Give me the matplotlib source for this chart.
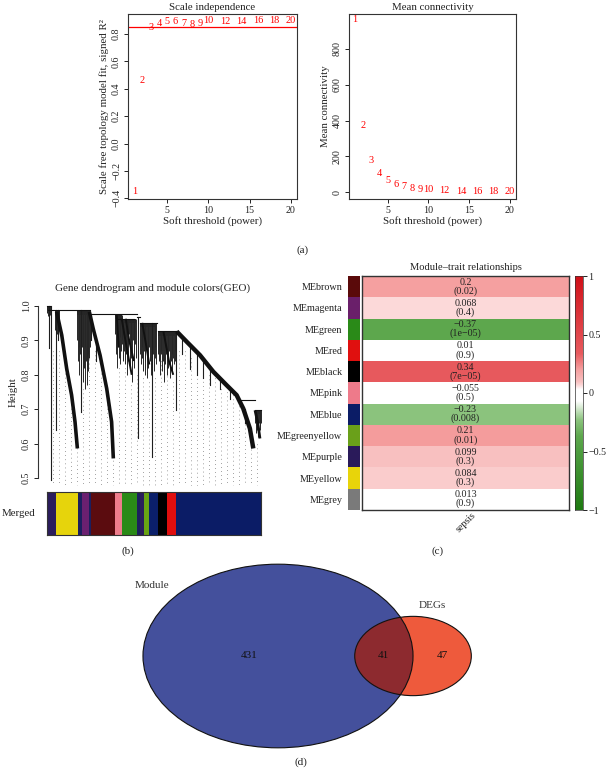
"""WGCNA summary figure: soft threshold scan, gene dendrogram,
module-trait heatmap and Module/DEGs Venn diagram."""

import numpy as np

import matplotlib

matplotlib.use("Agg")
import matplotlib.pyplot as plt
from matplotlib.colors import LinearSegmentedColormap, Normalize
from matplotlib.patches import Ellipse

W, H = 606, 768
INK = "#222222"
FRAME = "#333333"
plt.rcParams["font.family"] = ["Liberation Serif", "DejaVu Serif"]

# (a) soft threshold scan
POWERS = [1, 2, 3, 4, 5, 6, 7, 8, 9, 10, 12, 14, 16, 18, 20]
SFT_R2 = [-0.352, 0.46, 0.85, 0.88, 0.89, 0.89, 0.88, 0.87, 0.88, 0.897,
          0.89, 0.89, 0.897, 0.897, 0.90]
MEAN_K = [962, 370, 180, 106, 63, 41, 31, 22, 17, 13, 9, 4, 6, 5, 4]
R2_CUT = 0.85

# (b) gene dendrogram, leaves on a 0-100 scale, heights as in the plot
DENDRO_MERGES = [(0.0, 1.6, 0.999), (0.5, 20.0, 0.987), (20.0, 42.0, 0.977),
                 (42.0, 43.5, 0.968), (43.5, 51.2, 0.951), (52.0, 60.6, 0.926),
                 (33.0, 40.5, 0.963), (89.4, 97.2, 0.727), (97.2, 100.0, 0.697)]
DENDRO_TAILS = [
    [(4.5, 0.983), (6.9, 0.915), (9.2, 0.818), (11.5, 0.741), (13.1, 0.663), (14.2, 0.586)],
    [(19.8, 0.983), (21.6, 0.934), (24.8, 0.857), (27.9, 0.760), (30.2, 0.663), (31.0, 0.557)],
    [(60.6, 0.926), (65.3, 0.896), (71.5, 0.857), (77.7, 0.809), (83.9, 0.770),
     (88.6, 0.741), (91.7, 0.702), (94.8, 0.644), (96.4, 0.586)],
    [(97.2, 0.697), (98.5, 0.660), (99.5, 0.615)],
    [(34.9, 0.963), (37.2, 0.880), (39.6, 0.800)],
    [(32.6, 0.973), (33.5, 0.880)],
    [(36.8, 0.963), (38.4, 0.900), (40.6, 0.840)],
    [(54.4, 0.926), (57.0, 0.840), (59.0, 0.800)],
    [(44.5, 0.951), (46.5, 0.880), (47.8, 0.830)],
]
TAIL_WIDTHS = [2.6, 2.6, 3.2, 2.0, 1.4, 1.4, 1.4, 1.4, 1.4]
# single long leaves: (x, top, bottom)
DENDRO_DROPS = [
    (1.1, 0.999, 0.877), (1.7, 0.999, 0.494), (4.2, 0.987, 0.640), (5.0, 0.987, 0.900),
    (15.9, 0.987, 0.692), (20.5, 0.977, 0.90), (23.0, 0.90, 0.84),
    (42.7, 0.968, 0.615), (48.9, 0.951, 0.561), (60.1, 0.926, 0.697),
    (63.0, 0.905, 0.86), (66.8, 0.89, 0.818), (70.0, 0.865, 0.80), (73.0, 0.845, 0.79),
    (76.1, 0.82, 0.77), (80.8, 0.785, 0.76), (85.5, 0.76, 0.73), (92.5, 0.70, 0.66),
]
# ragged clusters: (x0, x1, merge height, leaf bottoms left to right)
DENDRO_MASSES = [
    (0.0, 1.6, 0.999, [0.98, 0.97, 0.985, 0.975]),
    (3.7, 5.8, 0.987, [0.93, 0.95, 0.92, 0.94, 0.96, 0.95]),
    (14.2, 20.0, 0.987, [0.90, 0.84, 0.88, 0.80, 0.86, 0.87, 0.83, 0.88, 0.78, 0.85,
                         0.82, 0.88, 0.76, 0.84, 0.80, 0.77, 0.86, 0.81, 0.85, 0.88]),
    (31.8, 35.0, 0.975, [0.92, 0.86, 0.90, 0.82, 0.88, 0.85, 0.91, 0.83, 0.87, 0.89]),
    (35.0, 41.5, 0.963, [0.90, 0.84, 0.92, 0.87, 0.83, 0.91, 0.86, 0.80, 0.89, 0.84,
                         0.92, 0.82, 0.88, 0.85, 0.78, 0.90, 0.86, 0.82, 0.89, 0.85]),
    (43.5, 51.0, 0.951, [0.86, 0.83, 0.88, 0.85, 0.81, 0.87, 0.80, 0.84, 0.89, 0.79,
                         0.86, 0.82, 0.88, 0.84, 0.80, 0.87, 0.83, 0.86, 0.81, 0.88,
                         0.85, 0.83]),
    (52.0, 60.4, 0.926, [0.86, 0.84, 0.80, 0.87, 0.86, 0.81, 0.84, 0.78, 0.88, 0.83,
                         0.86, 0.80, 0.85, 0.82, 0.87, 0.79, 0.84, 0.86, 0.81, 0.85,
                         0.83, 0.87, 0.84, 0.80]),
    (97.2, 100.0, 0.697, [0.66, 0.63, 0.65, 0.64, 0.62, 0.66, 0.65, 0.64, 0.66]),
]
GUIDE_X = [2.8, 5.6, 8.4, 11.2, 14.0, 16.8, 19.6, 22.4, 25.2, 28.0, 30.8, 33.6, 36.4,
           39.2, 42.0, 44.8, 47.6, 50.4, 53.2, 56.0, 58.8, 61.6, 64.4, 67.2, 70.0, 72.8,
           75.6, 78.4, 81.2, 84.0, 86.8, 89.6, 92.4, 95.2, 98.0]
GUIDE_TOP = [0.87, 0.87, 0.84, 0.75, 0.60, 0.76, 0.87, 0.87, 0.84, 0.75, 0.60, 0.82,
             0.82, 0.77, 0.80, 0.79, 0.78, 0.79, 0.84, 0.82, 0.78, 0.87, 0.87, 0.85,
             0.85, 0.84, 0.80, 0.79, 0.76, 0.75, 0.74, 0.72, 0.68, 0.62, 0.60]
MERGED_COLORS = ["#2b1d5c", "#e6d40c", "#1c1f5e", "#6b2070", "#1c1f5e", "#5b0c0f",
                 "#ee7d8c", "#2a8a17", "#1c1f5e", "#2b1d5c", "#6aa313", "#0b1f6a",
                 "#000000", "#e00e0e", "#0b1c66"]
MERGED_WIDTHS = [4.35, 9.95, 2.0, 3.1, 1.25, 10.9, 3.7, 6.7, 1.55, 2.0, 2.2, 4.35,
                 3.9, 4.35, 39.7]

# (c) module-trait relationships
MODULES = ["MEbrown", "MEmagenta", "MEgreen", "MEred", "MEblack", "MEpink", "MEblue",
           "MEgreenyellow", "MEpurple", "MEyellow", "MEgrey"]
MODULE_COLORS = ["#5a0a0a", "#6a1f6a", "#2a8a18", "#e0100f", "#000000", "#ee7a8a",
                 "#0b1c66", "#6aa01a", "#2a1a5a", "#e8d40a", "#7a7a7a"]
COR = [0.2, 0.068, -0.37, 0.01, 0.34, -0.055, -0.23, 0.21, 0.099, 0.084, 0.013]
PVAL = ["0.02", "0.4", "1e\u221205", "0.9", "7e\u221205", "0.5", "0.008", "0.01",
        "0.3", "0.3", "0.9"]
TRAIT = "sepsis"

# (d) Venn: only module, both, only DEGs
VENN_SETS = ["Module", "DEGs"]
VENN_COUNTS = [431, 41, 47]

CMAP = LinearSegmentedColormap.from_list("gwr", [
    (0.0, "#1f7a12"), (0.25, "#4e9e40"), (0.315, "#5ea84e"), (0.385, "#8cc47e"),
    (0.465, "#ffffff"), (0.515, "#ffffff"), (0.534, "#fcd8d8"), (0.5495, "#f8c0c0"),
    (0.6, "#f5a0a0"), (0.67, "#e85a5e"), (1.0, "#d01018")])


def px_axes(fig, x0, y0, x1, y1):
    return fig.add_axes([x0 / W, 1 - y1 / H, (x1 - x0) / W, (y1 - y0) / H])


def ftext(fig, x, y, s, **kw):
    kw.setdefault("ha", "center")
    kw.setdefault("va", "center")
    kw.setdefault("color", INK)
    fig.text(x / W, 1 - y / H, s, **kw)


def r_style(ax):
    for s in ax.spines.values():
        s.set_linewidth(0.8)
        s.set_color(FRAME)
    ax.tick_params(direction="out", length=3, width=0.7, labelsize=7.2, pad=2,
                   colors=INK)
    ax.tick_params(axis="y", labelrotation=90)
    for t in ax.get_yticklabels():
        t.set_verticalalignment("center")


fig = plt.figure(figsize=(W / 100, H / 100), dpi=100)

# ---- (a) left: scale independence
ax = px_axes(fig, 128, 14, 297, 199)
for p, v in zip(POWERS, SFT_R2):
    ax.text(p, v, str(p), color="red", ha="center", va="center", fontsize=7.4)
ax.axhline(R2_CUT, color="red", lw=0.9)
ax.set_xlim(0.24, 20.76)
ax.set_ylim(-0.405, 0.946)
ax.set_xticks([5, 10, 15, 20])
ax.set_yticks(np.round(np.arange(-0.4, 0.81, 0.2), 1))
r_style(ax)
ax.set_title("Scale independence", fontsize=7.8, color=INK, pad=3)
ax.set_xlabel("Soft threshold (power)", fontsize=7.8, color=INK, labelpad=1)
ax.set_ylabel("Scale free topology model fit, signed R\u00b2", fontsize=7.8, color=INK,
              labelpad=2)

# ---- (a) right: mean connectivity
ax = px_axes(fig, 349, 14, 516, 199)
for p, v in zip(POWERS, MEAN_K):
    ax.text(p, v, str(p), color="red", ha="center", va="center", fontsize=7.4)
ax.set_xlim(0.24, 20.76)
ax.set_ylim(-37.5, 995)
ax.set_xticks([5, 10, 15, 20])
ax.set_yticks([0, 200, 400, 600, 800])
r_style(ax)
ax.set_title("Mean connectivity", fontsize=7.8, color=INK, pad=3)
ax.set_xlabel("Soft threshold (power)", fontsize=7.8, color=INK, labelpad=1)
ax.set_ylabel("Mean connectivity", fontsize=7.8, color=INK, labelpad=2)
ftext(fig, 303, 250, "(a)", fontsize=8)

# ---- (b) dendrogram
ax = px_axes(fig, 38, 300, 270, 487)
for gx, gt in zip(GUIDE_X, GUIDE_TOP):
    ax.plot([gx, gx], [gt, 0.48], color="#666666", lw=0.7,
            ls=(0, (0.6, 3.6)), zorder=1)
for x0, x1, top, bottoms in DENDRO_MASSES:
    xs = np.linspace(x0, x1, len(bottoms))
    ax.vlines(xs, bottoms, top, color="#262626", lw=0.7, zorder=2)
    ax.fill_between([x0, x1], top - 0.012, top, color="#262626", lw=0, zorder=2)
for x, top, bot in DENDRO_DROPS:
    ax.plot([x, x], [top, bot], color="#1e1e1e", lw=0.8, zorder=3)
for tail, lw in zip(DENDRO_TAILS, TAIL_WIDTHS):
    tx, th = zip(*tail)
    ax.plot(tx, th, color="#111111", lw=lw, solid_capstyle="butt", zorder=3)
for x0, x1, h in DENDRO_MERGES:
    ax.plot([x0, x1], [h, h], color="#111111", lw=0.8, zorder=3)
ax.set_xlim(-4.2, 104.2)
ax.set_ylim(0.474, 1.0174)
for side in ("top", "right", "bottom"):
    ax.spines[side].set_visible(False)
ax.spines["left"].set_bounds(0.5, 1.0)
ax.set_xticks([])
ax.set_yticks([0.5, 0.6, 0.7, 0.8, 0.9, 1.0])
r_style(ax)
ftext(fig, 153, 288, "Gene dendrogram and module colors(GEO)", fontsize=8)
ftext(fig, 13, 392, "Height", fontsize=7.8, rotation=90)

ax = px_axes(fig, 47, 492, 261, 535)
lefts = np.concatenate([[0], np.cumsum(MERGED_WIDTHS)[:-1]])
ax.barh(0.5, MERGED_WIDTHS, left=lefts, height=1.0, color=MERGED_COLORS, lw=0)
ax.set_xlim(0, sum(MERGED_WIDTHS))
ax.set_ylim(0, 1)
ax.set_xticks([])
ax.set_yticks([])
for s in ax.spines.values():
    s.set_linewidth(0.8)
    s.set_color(FRAME)
ftext(fig, 35, 513, "Merged", fontsize=7.8, ha="right")
ftext(fig, 128, 551, "(b)", fontsize=8)

# ---- (c) module-trait heatmap
norm = Normalize(-1, 1)
n = len(MODULES)
ax = px_axes(fig, 362, 276, 569, 510)
ax.imshow(np.array(COR)[:, None], cmap=CMAP, norm=norm, aspect="auto",
          extent=(0, 1, n, 0))
for i, (c, p) in enumerate(zip(COR, PVAL)):
    ax.text(0.5, i + 0.5, f"{c}".replace("-", "\u2212") + f"\n({p})", ha="center",
            va="center", fontsize=7.2, color=INK, linespacing=0.95)
ax.set_xlim(0, 1)
ax.set_ylim(n, 0)
ax.set_xticks([])
ax.set_yticks([])
for s in ax.spines.values():
    s.set_linewidth(1.0)
    s.set_color(FRAME)
ax.set_title("Module\u2013trait relationships", fontsize=7.6, color=INK, pad=4)

ax = px_axes(fig, 348, 276, 360, 510)
ax.barh(np.arange(n) + 0.5, 1, height=1.0, color=MODULE_COLORS, lw=0)
ax.set_xlim(0, 1)
ax.set_ylim(n, 0)
ax.set_xticks([])
ax.set_yticks(np.arange(n) + 0.5)
ax.set_yticklabels(MODULES, fontsize=7.3, color=INK)
ax.tick_params(axis="y", length=0, pad=4)
for s in ax.spines.values():
    s.set_visible(False)

ax = px_axes(fig, 575, 276, 583, 510)
ax.imshow(np.linspace(-1, 1, 256)[:, None], cmap=CMAP, norm=norm, aspect="auto",
          origin="lower", extent=(0, 1, -1, 1))
ax.set_xticks([])
ax.yaxis.tick_right()
ax.set_yticks([-1, -0.5, 0, 0.5, 1])
ax.set_yticklabels(["\u22121", "\u22120.5", "0", "0.5", "1"])
ax.tick_params(axis="y", direction="out", length=3, width=0.7, labelsize=7.2,
               pad=1, colors=INK)
for s in ax.spines.values():
    s.set_linewidth(0.5)
    s.set_color(FRAME)
ftext(fig, 466, 522, TRAIT, fontsize=7.2, rotation=45)
ftext(fig, 438, 551, "(c)", fontsize=8)

# ---- (d) Venn, areas proportional to set sizes
ax = fig.add_axes([0, 0, 1, 1])
ax.set_xlim(0, W)
ax.set_ylim(H, 0)
ax.axis("off")
ax.patch.set_alpha(0)
size_a = VENN_COUNTS[0] + VENN_COUNTS[1]
size_b = VENN_COUNTS[1] + VENN_COUNTS[2]
k, aspect = 12.43, 0.68
wa, wb = k * np.sqrt(size_a), k * np.sqrt(size_b)
cx, cy = 278, 656
cxb = cx + wa / 2
big = Ellipse((cx, cy), wa, wa * aspect, facecolor="#44509c", edgecolor="none")
small = Ellipse((cxb, cy), wb, wb * aspect, facecolor="#ee5a3c", edgecolor="none")
ax.add_patch(big)
ax.add_patch(small)
both = Ellipse((cxb, cy), wb, wb * aspect, facecolor="#8d2a2f", edgecolor="none")
ax.add_patch(both)
both.set_clip_path(big)
for e in (big, small):
    ax.add_patch(Ellipse(e.center, e.width, e.height, facecolor="none",
                         edgecolor="#111111", lw=0.8))
a_left, a_right = cx - wa / 2, cx + wa / 2
b_left, b_right = cxb - wb / 2, cxb + wb / 2
for xpos, cnt in zip([(a_left + b_left) / 2, (b_left + a_right) / 2,
                      (a_right + b_right) / 2], VENN_COUNTS):
    ax.text(xpos, cy, str(cnt), ha="center", va="center", fontsize=8, color="#111111")
ax.text(152, 586, VENN_SETS[0], ha="center", va="center", fontsize=8, color="#333333")
ax.text(432, 606, VENN_SETS[1], ha="center", va="center", fontsize=8, color="#333333")
ftext(fig, 301, 762, "(d)", fontsize=8)

fig.savefig("out.png", dpi=100)
